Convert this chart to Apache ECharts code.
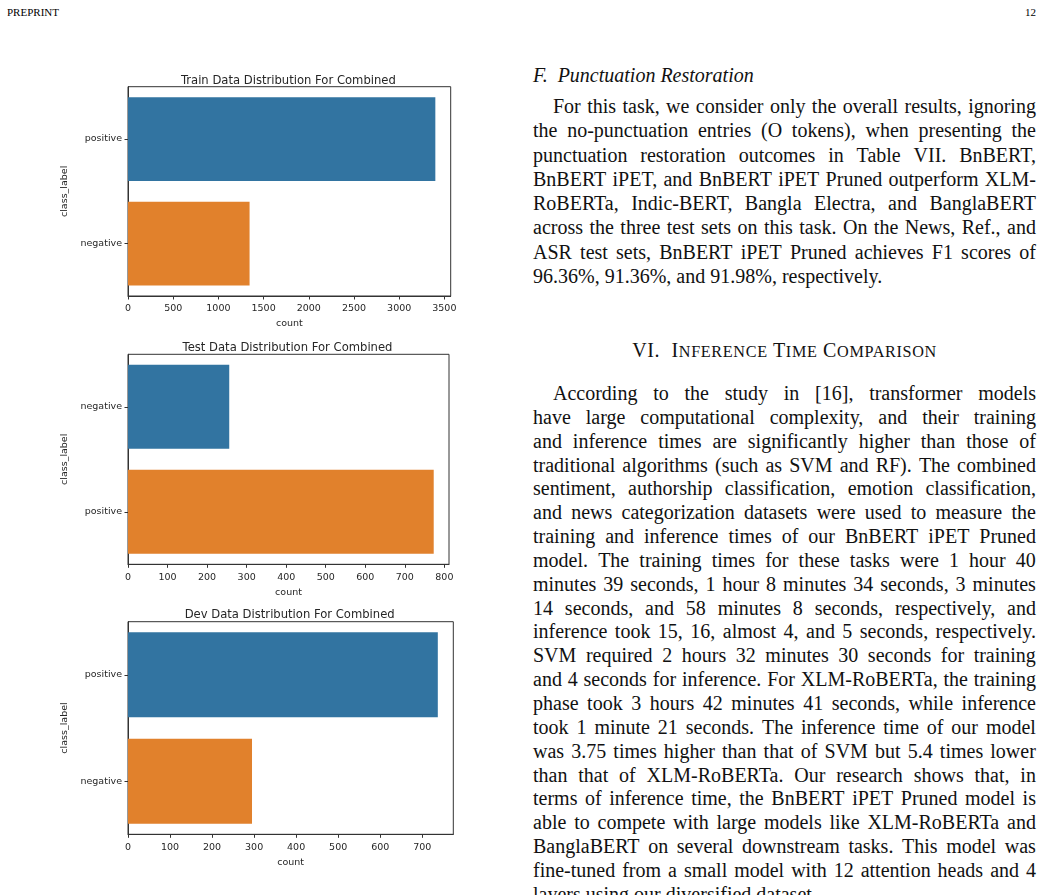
<!DOCTYPE html>
<html>
<head>
<meta charset="utf-8">
<script src="https://cdn.jsdelivr.net/npm/echarts@6.0.0/dist/echarts.min.js"></script>
<style>
  html, body { margin: 0; padding: 0; background: #fff; }
  body { width: 1043px; height: 895px; position: relative; overflow: hidden; }
  #charts { position: absolute; left: 0; top: 0; width: 500px; height: 895px; }
  .hdr { position: absolute; top: 6px; font-family: 'Liberation Serif', serif; font-size: 11px; color: #000; }
  .col { position: absolute; left: 533px; width: 503px; font-family: 'Liberation Serif', serif; font-size: 20px; color: #111; }
  .ln { display: flex; justify-content: space-between; white-space: nowrap; }
  #para1 .ln { height: 24.3px; line-height: 24.3px; }
  #para2 .ln { height: 23.85px; line-height: 23.85px; }
  .ln.last { justify-content: flex-start; }
  .ln.last span { margin-right: 5px; }
  .ln.ind { padding-left: 20px; }
  .sub { font-style: italic; }
  .sec { text-align: center; line-height: 24px; letter-spacing: 0.65px; }
  .sec small { font-size: 16.2px; }
</style>
</head>
<body>
<div class="hdr" style="left:7px;">PREPRINT</div>
<div class="hdr" style="right:7px;">12</div>
<div id="charts"></div>

<div class="col sub" style="top:63px; line-height:24px;">F.&nbsp; Punctuation Restoration</div>
<div class="col" id="para1" style="top:94px;"></div>
<div class="col sec" style="top:338px;">VI.&nbsp; I<small>NFERENCE</small> T<small>IME</small> C<small>OMPARISON</small></div>
<div class="col" id="para2" style="top:382px;"></div>

<script>
// data
const trainCategories = ['positive', 'negative'];
const trainCounts = [3400, 1345];
const testCategories = ['negative', 'positive'];
const testCounts = [256, 773];
const devCategories = ['positive', 'negative'];
const devCounts = [737, 295];

const trainTicks = [0, 500, 1000, 1500, 2000, 2500, 3000, 3500];
const testTicks = [0, 100, 200, 300, 400, 500, 600, 700, 800];
const devTicks = [0, 100, 200, 300, 400, 500, 600, 700];

const palette = ['#3274a1', '#e1812c'];
const textColor = '#262626';
const font = 'DejaVu Sans';

const panels = [
    { title: 'Train Data Distribution For Combined', cats: trainCategories, counts: trainCounts, ticks: trainTicks,
      box: { left: 128, top: 86.7, width: 322.7, height: 209.3 }, titleTop: 70 },
    { title: 'Test Data Distribution For Combined', cats: testCategories, counts: testCounts, ticks: testTicks,
      box: { left: 128, top: 354.3, width: 321, height: 210 }, titleTop: 336.5 },
    { title: 'Dev Data Distribution For Combined', cats: devCategories, counts: devCounts, ticks: devTicks,
      box: { left: 128, top: 621.7, width: 325.3, height: 212.6 }, titleTop: 604 }
];

const option = { animation: false, title: [], grid: [], xAxis: [], yAxis: [], series: [] };

panels.forEach((p, i) => {
    option.title.push({
        text: p.title,
        left: p.box.left + p.box.width / 2 - 6,
        top: p.titleTop,
        textAlign: 'center',
        textStyle: { fontFamily: font, fontSize: 11.6, fontWeight: 'normal', color: textColor }
    });
    option.grid.push({
        left: p.box.left, top: p.box.top, width: p.box.width, height: p.box.height,
        show: true, borderColor: '#333', borderWidth: 1, backgroundColor: '#fff'
    });
    option.xAxis.push({
        gridIndex: i,
        type: 'value',
        min: 0,
        max: Math.max(...p.counts) * 1.05, // matplotlib 5% margin
        name: 'count',
        nameLocation: 'middle',
        nameGap: 23,
        nameTextStyle: { fontFamily: font, fontSize: 9.5, color: textColor },
        axisLine: { show: true, lineStyle: { color: '#333', width: 1 } },
        axisTick: { show: true, length: 3.5, customValues: p.ticks, lineStyle: { color: '#333' } },
        axisLabel: { customValues: p.ticks, margin: 8, fontFamily: font, fontSize: 9.5, color: textColor,
                     formatter: v => String(v) },
        splitLine: { show: false }
    });
    option.yAxis.push({
        gridIndex: i,
        type: 'category',
        inverse: true,
        data: p.cats,
        name: 'class_label',
        nameLocation: 'middle',
        nameGap: 51,
        nameTextStyle: { fontFamily: font, fontSize: 9.5, color: textColor },
        axisLine: { show: true, lineStyle: { color: '#333', width: 1 } },
        axisTick: { show: true, alignWithLabel: true, length: 3.5, lineStyle: { color: '#333' } },
        axisLabel: { margin: 6, fontFamily: font, fontSize: 9.5, color: textColor }
    });
    option.series.push({
        type: 'bar',
        xAxisIndex: i,
        yAxisIndex: i,
        barCategoryGap: '20%',
        data: p.counts.map((v, j) => ({ value: v, itemStyle: { color: palette[j] } }))
    });
});

const chart = echarts.init(document.getElementById('charts'), null, { renderer: 'canvas' });
chart.setOption(option);

// right-hand column text, one entry per printed line
const para1 = [
    'For this task, we consider only the overall results, ignoring',
    'the no-punctuation entries (O tokens), when presenting the',
    'punctuation restoration outcomes in Table VII. BnBERT,',
    'BnBERT iPET, and BnBERT iPET Pruned outperform XLM-',
    'RoBERTa, Indic-BERT, Bangla Electra, and BanglaBERT',
    'across the three test sets on this task. On the News, Ref., and',
    'ASR test sets, BnBERT iPET Pruned achieves F1 scores of',
    '96.36%, 91.36%, and 91.98%, respectively.'
];
const para2 = [
    'According to the study in [16], transformer models',
    'have large computational complexity, and their training',
    'and inference times are significantly higher than those of',
    'traditional algorithms (such as SVM and RF). The combined',
    'sentiment, authorship classification, emotion classification,',
    'and news categorization datasets were used to measure the',
    'training and inference times of our BnBERT iPET Pruned',
    'model. The training times for these tasks were 1 hour 40',
    'minutes 39 seconds, 1 hour 8 minutes 34 seconds, 3 minutes',
    '14 seconds, and 58 minutes 8 seconds, respectively, and',
    'inference took 15, 16, almost 4, and 5 seconds, respectively.',
    'SVM required 2 hours 32 minutes 30 seconds for training',
    'and 4 seconds for inference. For XLM-RoBERTa, the training',
    'phase took 3 hours 42 minutes 41 seconds, while inference',
    'took 1 minute 21 seconds. The inference time of our model',
    'was 3.75 times higher than that of SVM but 5.4 times lower',
    'than that of XLM-RoBERTa. Our research shows that, in',
    'terms of inference time, the BnBERT iPET Pruned model is',
    'able to compete with large models like XLM-RoBERTa and',
    'BanglaBERT on several downstream tasks. This model was',
    'fine-tuned from a small model with 12 attention heads and 4',
    'layers using our diversified dataset.'
];

function fillParagraph(id, lines) {
    const box = document.getElementById(id);
    lines.forEach((line, k) => {
        const div = document.createElement('div');
        div.className = 'ln' + (k === 0 ? ' ind' : '') + (k === lines.length - 1 ? ' last' : '');
        line.split(' ').forEach(w => {
            const s = document.createElement('span');
            s.textContent = w;
            div.appendChild(s);
        });
        box.appendChild(div);
    });
}
fillParagraph('para1', para1);
fillParagraph('para2', para2);
</script>
</body>
</html>
